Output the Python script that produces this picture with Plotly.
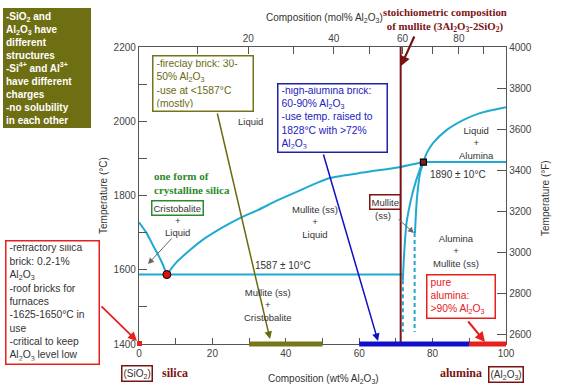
import plotly.graph_objects as go

# ---------------- data (wt% Al2O3, temperature degC) ----------------
sio2_liq_wt = [0, 2, 3.8, 6, 7.6]
sio2_liq_T = [1728, 1700, 1666, 1625, 1587]

mullite_liq_wt = [7.6, 10, 13.9, 18, 22.9, 27.5, 32.2, 38, 43.9, 52, 62, 71.3, 77.5]
mullite_liq_T = [1587, 1618, 1653, 1685, 1715, 1739, 1760, 1788, 1814, 1847, 1863, 1877, 1890]

alumina_liq_wt = [77.5, 78.4, 80.1, 83.8, 88.3, 92.9, 100]
alumina_liq_T = [1890, 1914, 1941, 1976, 2003, 2022, 2038]

mullite_left_wt = [77.1, 75.5, 74.3, 72.9, 72.2, 71.9]
mullite_left_T = [1886, 1840, 1797, 1726, 1635, 1572]
mullite_left_dash_wt = [71.9, 71.9]
mullite_left_dash_T = [1572, 1432]

mullite_right_wt = [77.5, 76.6, 75.7, 75.2]
mullite_right_T = [1890, 1861, 1788, 1699]
mullite_right_dash_wt = [75.1, 75.1]
mullite_right_dash_T = [1699, 1432]

eutectic_wt, eutectic_T = 7.6, 1587
eutectic_line_wt = [0, 71.9]
peritectic_wt, peritectic_T = 77.5, 1890
peritectic_line_wt = [77.5, 100]
stoich_wt = 71.3

# composition ranges of refractories (wt%)
fireclay_range = [30, 50]
high_alumina_range = [60, 90]
pure_alumina_range = [90, 100]

# axis ticks
wt_ticks = list(range(0, 101, 10))
wt_labels = [str(v) if v % 20 == 0 else "" for v in wt_ticks]
mol_ticks = list(range(0, 101, 10))
mol_labels = [str(v) if v in (20, 40, 60, 80) else "" for v in mol_ticks]
C_ticks = list(range(1400, 2201, 100))
C_labels = [str(v) if v % 200 == 0 else "" for v in C_ticks]
F_ticks = list(range(2600, 4001, 200))

M_AL2O3, M_SIO2 = 101.96, 60.08


def mol_to_wt(m):
    return 100 * m * M_AL2O3 / (m * M_AL2O3 + (100 - m) * M_SIO2)


# ---------------- styles ----------------
CYAN = "#1faad2"
DRED = "#7a1414"
OLIVE = "#6e6e12"
BLUE = "#2222c0"
RED = "#e6201c"
GREEN = "#2a8a2a"
GRAY = "#555555"
TXT = "#333333"
SANS = "Liberation Sans, Arial, sans-serif"
SERIF = "Liberation Serif, Times New Roman, serif"

W, H = 586, 389
L, R, T, B = 139, 80, 47, 45
PW, PH = W - L - R, H - T - B


def PX(x):
    return (x - L) / PW


def PY(y):
    return (H - B - y) / PH


fig = go.Figure()


def line(x, y, dash=None, width=2, color=CYAN, shape="spline"):
    fig.add_trace(go.Scatter(x=x, y=y, mode="lines", hoverinfo="skip",
                             line=dict(color=color, width=width, dash=dash, shape=shape, smoothing=0.7)))


line(sio2_liq_wt, sio2_liq_T)
line(mullite_liq_wt, mullite_liq_T)
line(alumina_liq_wt, alumina_liq_T)
line(mullite_left_wt, mullite_left_T)
line(mullite_right_wt, mullite_right_T)
line(mullite_left_dash_wt, mullite_left_dash_T, dash="4px,3px", shape="linear")
line(mullite_right_dash_wt, mullite_right_dash_T, dash="4px,3px", shape="linear")
line(eutectic_line_wt, [eutectic_T, eutectic_T], shape="linear")
line(peritectic_line_wt, [peritectic_T, peritectic_T], shape="linear")
# stoichiometric mullite line
line([stoich_wt, stoich_wt], [1400, 2200], width=2, color=DRED, shape="linear")

fig.add_trace(go.Scatter(x=[eutectic_wt], y=[eutectic_T], mode="markers", hoverinfo="skip",
                         marker=dict(size=8, color="#e01010", line=dict(color="black", width=1))))
fig.add_trace(go.Scatter(x=[peritectic_wt], y=[peritectic_T], mode="markers", hoverinfo="skip",
                         marker=dict(size=6, symbol="square", color="#7a2020", line=dict(color="black", width=1.2))))

# dummy traces so the secondary axes exist
fig.add_trace(go.Scatter(x=[0, 100], y=[1400, 1400], xaxis="x2", yaxis="y", mode="markers",
                         marker=dict(opacity=0), hoverinfo="skip"))
fig.add_trace(go.Scatter(x=[0], y=[3000], xaxis="x", yaxis="y2", mode="markers",
                         marker=dict(opacity=0), hoverinfo="skip"))

shapes = []
# composition bars along the bottom axis
for rng, col in [(fireclay_range, "#76761a"), (high_alumina_range, "#1010cc"), (pure_alumina_range, RED)]:
    shapes.append(dict(type="line", xref="x", yref="paper", x0=rng[0], x1=rng[1], y0=0, y1=0,
                       line=dict(color=col, width=5), layer="above"))
# small red square at pure silica
shapes.append(dict(type="rect", xref="paper", yref="paper", x0=PX(137), x1=PX(142), y0=PY(346), y1=PY(341),
                   fillcolor=RED, line=dict(width=0), layer="above"))

ann = []


def text(x, y, s, size=9.5, color=TXT, family=SANS, xanchor="center", yanchor="middle", **kw):
    ann.append(dict(x=PX(x), y=PY(y), xref="paper", yref="paper", text=s, showarrow=False,
                    font=dict(size=size, color=color, family=family),
                    xanchor=xanchor, yanchor=yanchor, **kw))


def box(x0, y0, x1, y1, s, color, border, bg="rgba(0,0,0,0)", size=10.5, bold=False, family=SANS,
        align="left", bw=1.5, pad=3):
    if bold:
        s = "<b>" + s + "</b>"
    ann.append(dict(x=PX(x0), y=PY(y0), xref="paper", yref="paper", text=s, showarrow=False,
                    xanchor="left", yanchor="top", align=align, valign="middle",
                    width=(x1 - x0) - 2 * pad - 2 * bw, height=(y1 - y0) - 2 * pad - 2 * bw,
                    bgcolor=bg, bordercolor=border, borderwidth=bw, borderpad=pad,
                    font=dict(size=size, color=color, family=family)))


def arrow(hx, hy, tx, ty, color, width=1.5, head=2, size=1):
    ann.append(dict(x=PX(hx), y=PY(hy), xref="paper", yref="paper", text="", showarrow=True,
                    ax=tx - hx, ay=ty - hy, arrowcolor=color, arrowwidth=width,
                    arrowhead=head, arrowsize=size, standoff=0, startstandoff=0))


# info boxes
box(3, 8, 91, 128,
    "-SiO<sub>2</sub> and<br>Al<sub>2</sub>O<sub>3</sub> have<br>different<br>structures<br>"
    "-Si<sup>4+</sup> and Al<sup>3+</sup><br>have different<br>charges<br>-no solubility<br>in each other",
    "white", OLIVE, bg=OLIVE, size=10, bold=True, bw=1, pad=2)
box(152, 55, 254, 112, "-fireclay brick: 30-<br>50% Al<sub>2</sub>O<sub>3</sub><br>-use at &lt;1587°C<br>(mostly)",
    "#6a6a10", "#74741a", bg="white", size=10.3)
box(277, 83, 388, 153,
    "-high-alumina brick:<br>60-90% Al<sub>2</sub>O<sub>3</sub><br>-use temp. raised to<br>1828°C with &gt;72%<br>Al<sub>2</sub>O<sub>3</sub>",
    BLUE, "#2020a8", bg="white", size=10.3)
box(5, 240, 100, 365,
    "-refractory silica<br>brick: 0.2-1%<br>Al<sub>2</sub>O<sub>3</sub><br>-roof bricks for<br>furnaces<br>"
    "-1625-1650°C in<br>use<br>-critical to keep<br>Al<sub>2</sub>O<sub>3</sub> level low",
    TXT, RED, bg="white", size=10.3)
box(426, 274, 496, 319, "pure<br>alumina:<br>&gt;90% Al<sub>2</sub>O<sub>3</sub>", RED, RED, bg="white", size=10.3)

# arrows
arrow(270, 339, 217, 112, "#6a6a10")
arrow(378, 341, 323, 153, "#1010c0")
arrow(485, 342, 467, 320, RED, width=2)
arrow(137, 341, 100, 305, RED, width=1.8)
arrow(148, 264, 173, 237, "#666666", width=1, size=1.2)
arrow(414, 233, 397, 218, "#666666", width=1, size=1.2)
arrow(401, 66, 415, 35, DRED, width=2.2, size=0.9)


def boxed(x, y, s, border, size=9.5, bg="white"):
    ann.append(dict(x=PX(x), y=PY(y), xref="paper", yref="paper", text=s, showarrow=False,
                    xanchor="center", yanchor="middle",
                    font=dict(size=size, color=TXT, family=SANS), bordercolor=border, borderwidth=1.5,
                    borderpad=1, bgcolor=bg))


# region labels
text(250, 122, "Liquid")
text(315, 222, "Mullite (ss)<br>+<br>Liquid")
text(283, 265, "1587 ± 10°C", size=10)
text(268, 305, "Mullite (ss)<br>+<br>Cristobalite")
boxed(177.5, 207.5, "Cristobalite", GREEN)
text(177, 226, "+<br>Liquid")
text(152, 183, "<b>one form of<br>crystalline silica</b>", size=11, color=GREEN, family=SERIF,
     xanchor="left", align="left")
boxed(384.5, 201.5, "Mullite", DRED)
text(383, 215, "(ss)")
text(458, 174, "1890 ± 10°C", size=10)
text(476, 143, "Liquid<br>+<br>Alumina")
text(456, 251, "Alumina<br>+<br>Mullite (ss)")

# titles and composition end labels
text(324, 18, "Composition (mol% Al<sub>2</sub>O<sub>3</sub>)", size=10)
text(323, 379, "Composition (wt% Al<sub>2</sub>O<sub>3</sub>)", size=10)
text(445, 20, "<b>stoichiometric composition<br>of mullite (3Al<sub>2</sub>O<sub>3</sub>-2SiO<sub>2</sub>)</b>",
     size=10.8, color=DRED, family=SERIF)
text(103, 196, "Temperature (°C)", size=10, textangle=-90)
text(545, 198, "Temperature (°F)", size=10, textangle=-90)
text(175, 373, "<b>silica</b>", size=12, color=DRED, family=SERIF)
text(461, 373, "<b>alumina</b>", size=12, color=DRED, family=SERIF)
boxed(137, 373.5, "(SiO<sub>2</sub>)", DRED, size=10, bg="rgba(0,0,0,0)")
boxed(506, 374, "(Al<sub>2</sub>O<sub>3</sub>)", DRED, size=10, bg="rgba(0,0,0,0)")

tickfont = dict(size=10, color="#444444", family=SANS)
F_lo, F_hi = 1400 * 9 / 5 + 32, 2200 * 9 / 5 + 32 + 8.5

fig.update_layout(
    width=W, height=H, margin=dict(l=L, r=R, t=T, b=B),
    plot_bgcolor="white", paper_bgcolor="white", showlegend=False,
    shapes=shapes, annotations=ann,
    xaxis=dict(range=[0, 100], tickvals=wt_ticks, ticktext=wt_labels, ticks="inside", ticklen=6,
               tickcolor=GRAY, showline=True, linecolor=GRAY, linewidth=1.3, showgrid=False,
               zeroline=False, tickfont=tickfont, fixedrange=True),
    xaxis2=dict(range=[0, 100], overlaying="x", side="top", tickvals=[mol_to_wt(m) for m in mol_ticks],
                ticktext=mol_labels, ticks="inside", ticklen=7, tickcolor=GRAY, showline=True,
                linecolor=GRAY, linewidth=1.3, showgrid=False, zeroline=False, tickfont=tickfont),
    yaxis=dict(range=[1400, 2200], tickvals=C_ticks, ticktext=C_labels, ticks="inside", ticklen=8,
               tickcolor=GRAY, showline=True, linecolor=GRAY, linewidth=1.3, showgrid=False,
               zeroline=False, tickfont=tickfont),
    yaxis2=dict(range=[F_lo, F_hi], overlaying="y", side="right", tickvals=F_ticks, ticks="inside",
                ticklen=9, tickcolor=GRAY, showline=True, linecolor=GRAY, linewidth=1.3, showgrid=False,
                zeroline=False, tickfont=tickfont),
)

fig.write_html("out.html", config={"displayModeBar": False},
               post_script="document.body.style.margin='0px';document.body.style.overflow='hidden';")
